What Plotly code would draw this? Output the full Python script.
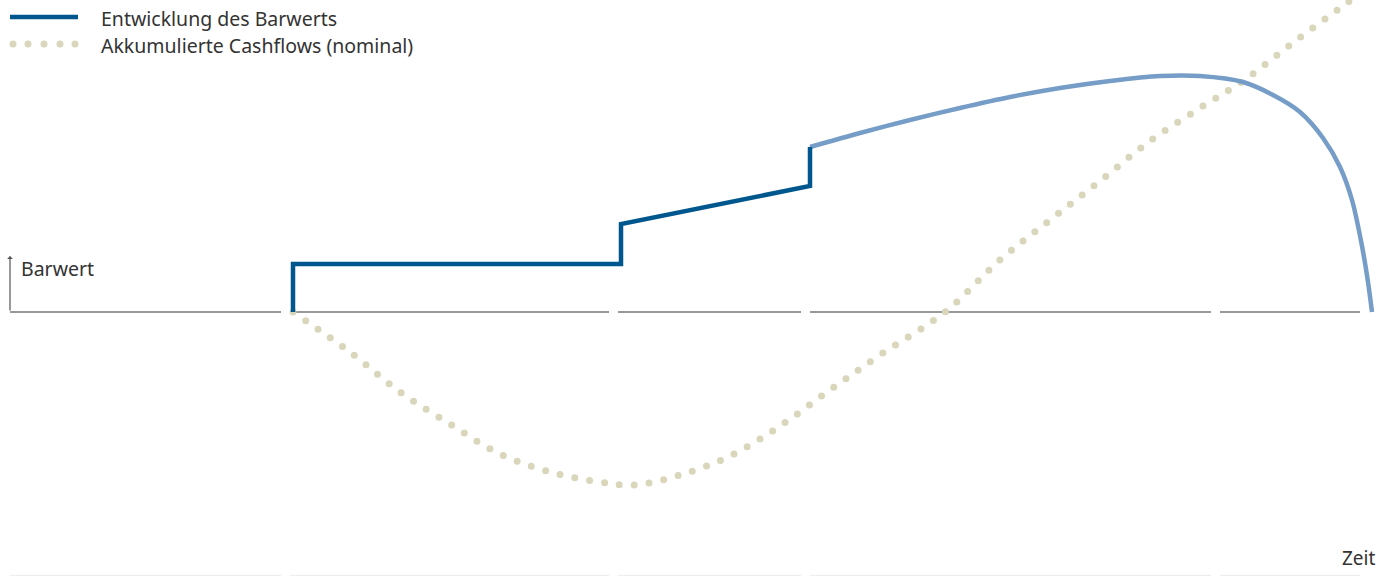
import plotly.graph_objects as go

# Schematic values (units: chart units, zero = Barwert baseline)
# Barwert (dark, known part)
bw_x = [293, 293, 621, 621, 810, 810]
bw_y = [0, 48, 48, 88, 126, 165]

# Barwert (light, projected part)
bwp_x = [810, 860, 910, 960, 1010, 1060, 1110, 1160, 1200, 1243, 1273, 1300, 1323, 1340, 1352, 1362, 1368, 1372]
bwp_y = [165, 179, 192, 204, 215, 224, 231, 236, 236, 230, 217, 200, 174, 145, 112, 66, 30, 0]

# Accumulated cashflows (nominal)
cf_x = [293, 350, 400, 450, 500, 550, 600, 635, 680, 730, 780, 830, 880, 945, 1000, 1050, 1100, 1150, 1200, 1243, 1290, 1340, 1375]
cf_y = [0, -40, -80, -112, -142, -160, -170, -173, -163, -144, -114, -78, -43, 0, 52, 92, 131, 171, 204, 231, 267, 304, 330]

# Axis segments (period breaks)
seg_start = [10, 290, 618, 810, 1220]
seg_end = [281, 609, 801, 1211, 1360]

legend_labels = ["Entwicklung des Barwerts", "Akkumulierte Cashflows (nominal)"]

DARK = "#00578e"
LIGHT = "#759dc7"
BEIGE = "#d9d6bb"
TEXT = "#333333"
FONT = "Noto Sans"

fig = go.Figure()
fig.add_trace(go.Scatter(x=cf_x, y=cf_y, mode="lines", line=dict(color=BEIGE, width=7, dash="0px,15px", shape="spline", smoothing=1.0), hoverinfo="skip"))
fig.add_trace(go.Scatter(x=bwp_x, y=bwp_y, mode="lines", line=dict(color=LIGHT, width=4.5, shape="spline", smoothing=0.8), hoverinfo="skip"))
fig.add_trace(go.Scatter(x=bw_x, y=bw_y, mode="lines", line=dict(color=DARK, width=4.5), hoverinfo="skip"))

shapes = []
for s, e in zip(seg_start, seg_end):
    shapes.append(dict(type="line", xref="x", yref="y", x0=s, x1=e, y0=0, y1=0, line=dict(color="#777777", width=1.5), layer="below"))
    shapes.append(dict(type="line", xref="x", yref="y", x0=s, x1=e, y0=-263.5, y1=-263.5, line=dict(color="#eeeeee", width=1.5), layer="below"))

# custom legend
shapes.append(dict(type="line", xref="paper", yref="paper", x0=10/1388, x1=78/1388, y0=1-17/576, y1=1-17/576, line=dict(color=DARK, width=4.5)))
for cx in [13, 28, 44, 60, 75]:
    shapes.append(dict(type="circle", xref="paper", yref="paper", x0=(cx-3.5)/1388, x1=(cx+3.5)/1388, y0=1-47.5/576, y1=1-40.5/576, fillcolor=BEIGE, line=dict(width=0)))

annotations = [
    dict(xref="paper", yref="paper", x=99/1388, y=1-18/576, text=legend_labels[0], showarrow=False, xanchor="left", yanchor="middle", font=dict(family=FONT, size=19.5, color=TEXT)),
    dict(xref="paper", yref="paper", x=99/1388, y=1-45/576, text=legend_labels[1], showarrow=False, xanchor="left", yanchor="middle", font=dict(family=FONT, size=19.5, color=TEXT)),
    # y-axis arrow
    dict(xref="x", yref="y", axref="x", ayref="y", x=10, y=56, ax=10, ay=0, text="", showarrow=True, arrowhead=1, arrowsize=0.8, arrowwidth=1.2, arrowcolor="#555555"),
    dict(xref="x", yref="y", x=19, y=44, text="Barwert", showarrow=False, xanchor="left", yanchor="middle", font=dict(family=FONT, size=19.5, color=TEXT)),
    dict(xref="x", yref="y", x=1377, y=-246, text="Zeit", showarrow=False, xanchor="right", yanchor="middle", font=dict(family=FONT, size=19, color=TEXT)),
]

fig.update_layout(
    width=1388, height=576,
    margin=dict(l=0, r=0, t=0, b=0),
    paper_bgcolor="white", plot_bgcolor="white",
    showlegend=False,
    xaxis=dict(range=[0, 1388], visible=False, fixedrange=True),
    yaxis=dict(range=[-264, 312], visible=False, fixedrange=True),
    shapes=shapes,
    annotations=annotations,
)

post = """
document.body.style.margin = '0';
document.body.style.padding = '0';
document.querySelectorAll('path.js-line').forEach(function(p){
  var d = (p.style.strokeDasharray || p.getAttribute('stroke-dasharray') || '');
  if (d.replace(/\\s/g,'').indexOf('0px,15px') === 0) { p.style.strokeLinecap = 'round'; }
});
"""
fig.write_html("out.html", post_script=post, config=dict(displayModeBar=False, staticPlot=True))
